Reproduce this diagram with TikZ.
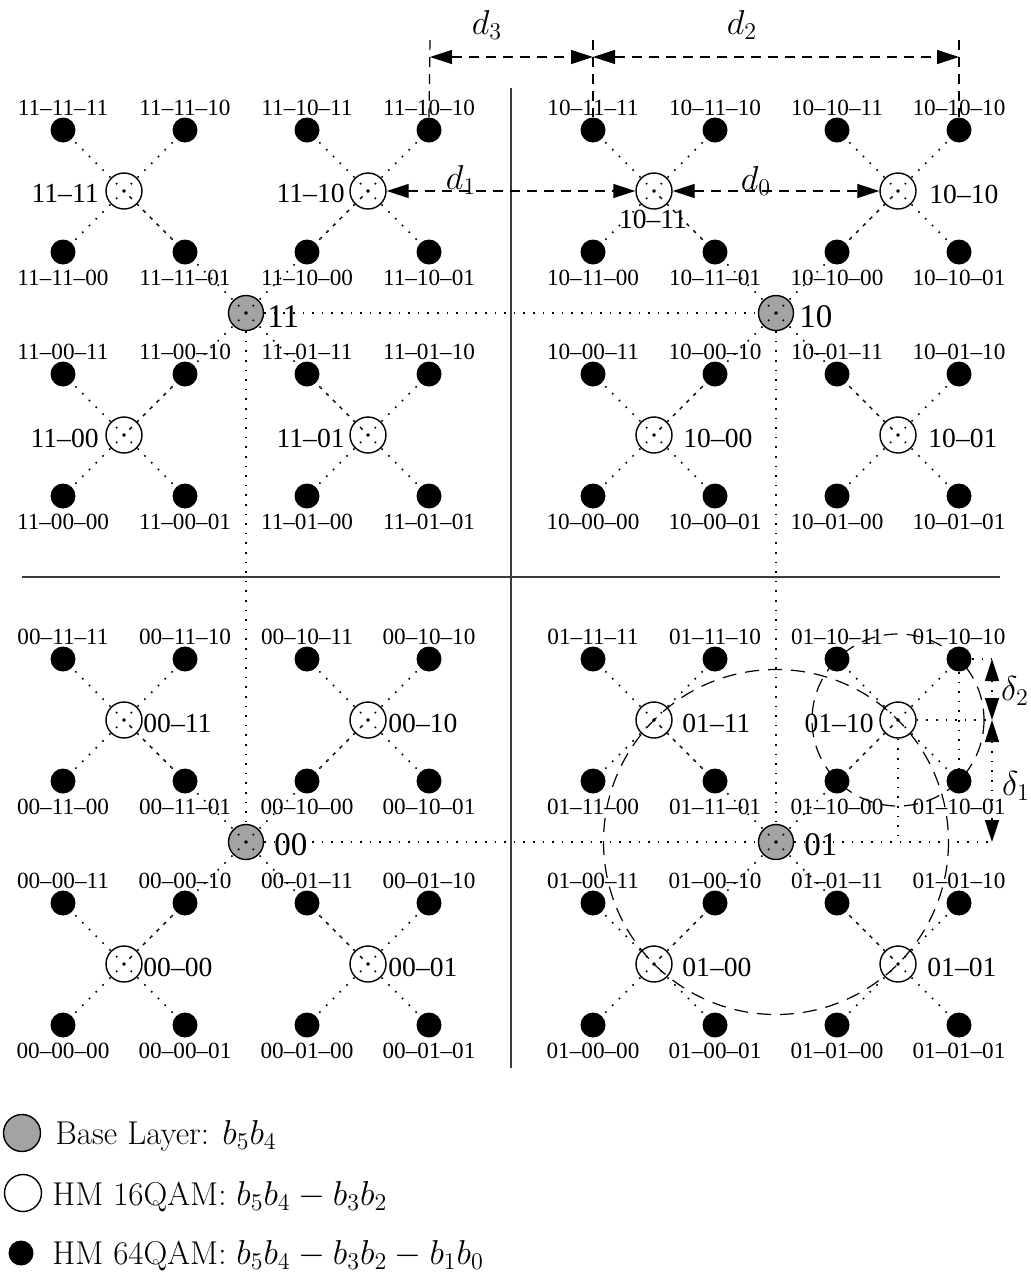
\documentclass[tikz,border=0pt]{standalone}
\usepackage{fontspec}
\newfontfamily\timesf{Liberation Serif}
\usetikzlibrary{arrows.meta}
\definecolor{basegray}{RGB}{163,163,163}
\definecolor{axiscol}{RGB}{60,60,60}
\begin{document}
\begin{tikzpicture}[x=0.5pt,y=-0.5pt,
  bdot/.style={circle,fill=black,inner sep=0pt,minimum size=12.5pt},
  wcirc/.style={circle,draw,fill=white,line width=0.7pt,inner sep=0pt,minimum size=18pt},
  gcirc/.style={circle,draw,fill=basegray,line width=0.7pt,inner sep=0pt,minimum size=17.5pt},
  slab/.style={inner sep=0pt,font=\timesf\fontsize{11.6}{13}\selectfont},
  qlab/.style={inner sep=0pt,font=\timesf\fontsize{13.8}{15}\selectfont},
  blab/.style={inner sep=0pt,font=\timesf\fontsize{16.5}{18}\selectfont},
  mlab/.style={inner sep=0pt,font=\fontsize{16.5}{18}\selectfont},
  leg/.style={inner sep=0pt,anchor=base west,font=\fontsize{16.5}{19}\selectfont},
  dotl/.style={line width=0.8pt,dash pattern=on 0.8pt off 4pt},
  dashl/.style={line width=0.6pt,dash pattern=on 5pt off 3.5pt},
  bigdash/.style={line width=0.6pt,dash pattern=on 7pt off 4.5pt},
  axis/.style={line width=0.8pt,draw=axiscol},
  dimarrow/.style={dashl,{Triangle[length=11pt,width=7pt]}-{Triangle[length=11pt,width=7pt]}},
  dimarrowdot/.style={dotl,{Triangle[length=11pt,width=7pt]}-{Triangle[length=11pt,width=7pt]}},
]
\useasboundingbox (0,0) rectangle (1030,1276);

% axes
\coordinate (axT) at (511,88);
\coordinate (axB) at (511,1068);
\coordinate (axL) at (22,577);
\coordinate (axR) at (1000,577);
\draw[axis] (axT) -- (axB);
\draw[axis] (axL) -- (axR);

% constellation points
\foreach \qn/\gx/\gy in {11/246/313,10/776/313,00/246/842,01/776/842}{
  \node[gcirc] (g-\qn) at (\gx,\gy) {};
  \foreach \sn/\sx/\sy in {11/-1/-1,10/1/-1,00/-1/1,01/1/1}{
    \node[wcirc] (w-\qn-\sn) at ({\gx+122*\sx},{\gy+122*\sy}) {};
    \foreach \tn/\tx/\ty in {11/-1/-1,10/1/-1,00/-1/1,01/1/1}{
      \pgfmathsetmacro{\px}{\gx+122*\sx+61*\tx}
      \pgfmathsetmacro{\py}{\gy+122*\sy+61*\ty}
      \pgfmathsetmacro{\ly}{\py+(\ty<0 ? -22 : 26)}
      \node[bdot] (b-\qn-\sn-\tn) at (\px,\py) {};
      \node[slab] (l-\qn-\sn-\tn) at (\px,\ly) {\qn–\sn–\tn};
    }
  }
}

% dotted connections
\foreach \qn in {11,10,00,01}{
  \foreach \sn in {11,10,00,01}{
    \draw[dotl] (g-\qn.center) -- (w-\qn-\sn.center);
    \foreach \tn in {11,10,00,01}{
      \draw[dotl] (w-\qn-\sn.center) -- (b-\qn-\sn-\tn.center);
    }
  }
}
\draw[dotl] (g-11) -- (g-10);
\draw[dotl] (g-11) -- (g-00);
\draw[dotl] (g-10) -- (g-01);
\draw[dotl] (g-00) -- (g-01);

% 16QAM labels
\node[qlab,anchor=east] (q-11-11) at (99,193) {11–11};
\node[qlab,anchor=east] (q-11-10) at (345,193) {11–10};
\node[qlab] (q-10-11) at (653,219) {10–11};
\node[qlab,anchor=west] (q-10-10) at (929,194) {10–10};
\node[qlab,anchor=east] (q-11-00) at (99,438) {11–00};
\node[qlab,anchor=east] (q-11-01) at (345,438) {11–01};
\node[qlab,anchor=west] (q-10-00) at (683,438) {10–00};
\node[qlab,anchor=west] (q-10-01) at (928,438) {10–01};
\node[qlab,anchor=west] (q-00-11) at (143,723) {00–11};
\node[qlab,anchor=west] (q-00-10) at (388,723) {00–10};
\node[qlab,anchor=west] (q-00-00) at (143,967) {00–00};
\node[qlab,anchor=west] (q-00-01) at (388,967) {00–01};
\node[qlab,anchor=west] (q-01-11) at (682,723) {01–11};
\node[qlab,anchor=east] (q-01-10) at (874,723) {01–10};
\node[qlab,anchor=west] (q-01-00) at (682,967) {01–00};
\node[qlab,anchor=west] (q-01-01) at (927,967) {01–01};

% base labels
\node[blab,anchor=west] (bl-11) at (267,317) {11};
\node[blab,anchor=west] (bl-10) at (799,317) {10};
\node[blab,anchor=west] (bl-00) at (274,845) {00};
\node[blab,anchor=west] (bl-01) at (804,845) {01};

% distance arrows d0..d3
\coordinate (t3) at (430,40);
\coordinate (t0) at (593,40);
\coordinate (t2) at (959,40);
\draw[dashl] (t3) -- (b-11-10-10.north);
\draw[dashl] (t0) -- (b-10-11-11.north);
\draw[dashl] (t2) -- (b-10-10-10.north);
\coordinate (a3) at (430,57);
\coordinate (a0) at (593,57);
\coordinate (a2) at (959,57);
\draw[dimarrow] (a3) -- (a0);
\draw[dimarrow] (a0) -- (a2);
\node[mlab] (ld3) at (487,25) {$d_3$};
\node[mlab] (ld2) at (742,25) {$d_2$};
\draw[dimarrow] (w-11-10) -- (w-10-11);
\draw[dimarrow] (w-10-11) -- (w-10-10);
\node[mlab] (ld1) at (461,180) {$d_1$};
\node[mlab] (ld0) at (756,181) {$d_0$};

% dashed circles
\draw[bigdash] (g-01.center) circle (172.5);
\draw[bigdash] (w-01-10.center) circle (86);

% delta construction
\coordinate (e1) at (992,659);
\coordinate (e2) at (992,720);
\coordinate (e3) at (992,842);
\coordinate (e4) at (898,842);
\draw[dotl] (g-01) -- (e3);
\draw[dotl] (b-01-10-10) -- (e1);
\draw[dotl] (w-01-10) -- (e2);
\draw[dotl] (b-01-10-10) -- (b-01-10-01);
\draw[dotl] (w-01-10) -- (e4);
\draw[dimarrowdot] (e1) -- (e2);
\draw[dimarrowdot] (e2) -- (e3);
\node[mlab] (ldl2) at (1015,691) {$\delta_2$};
\node[mlab] (ldl1) at (1016,786) {$\delta_1$};

% legend
\node[gcirc,minimum size=18.5pt] (lg) at (22,1133) {};
\node[wcirc,minimum size=18.5pt] (lw) at (23,1193) {};
\node[bdot] (lb) at (21,1253) {};
\node[leg] (tg) at (55,1144) {Base Layer: $b_5b_4$};
\node[leg] (tw) at (52,1205) {HM 16QAM: $b_5b_4-b_3b_2$};
\node[leg] (tb) at (52,1264) {HM 64QAM: $b_5b_4-b_3b_2-b_1b_0$};
\end{tikzpicture}
\end{document}
